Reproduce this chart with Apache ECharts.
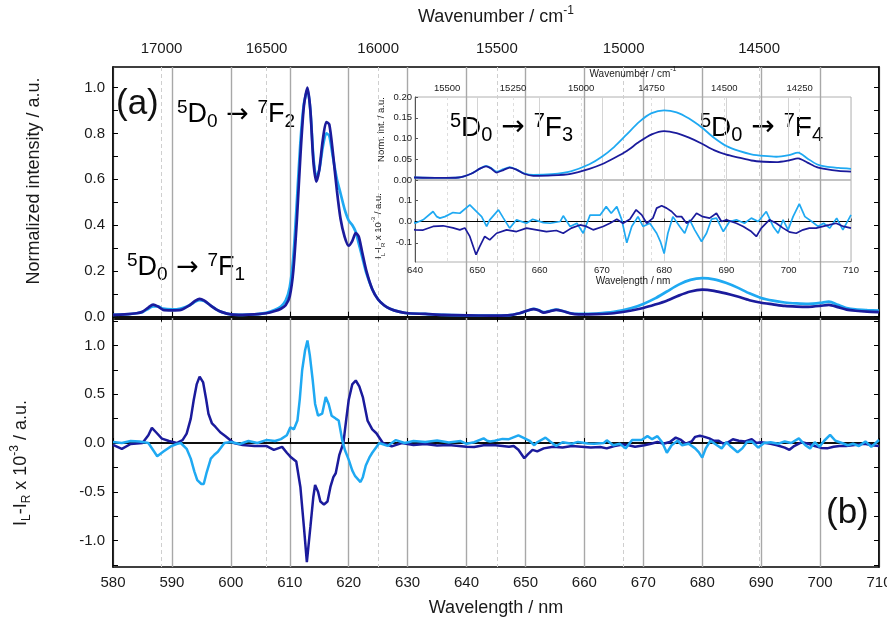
<!DOCTYPE html>
<html><head><meta charset="utf-8">
<script src="https://cdn.jsdelivr.net/npm/echarts@6/dist/echarts.min.js"></script>
<style>html,body{margin:0;padding:0;background:#fff}#c{width:887px;height:620px}</style>
</head><body><div id="c"></div>
<script>
// ---- data ----
const specX = [580,582,584,585,586,586.8,587.6,588.5,590,591.5,593,594,594.7,595.5,596.5,597.5,598.5,600,602,604,606,607.5,608.5,609.3,610,610.6,611.2,611.8,612.4,613,613.5,614,614.5,615,615.6,616.2,616.7,617.3,618,618.6,619.3,620,620.6,621.2,621.7,622.3,623,624,625,626,627,628.5,630,633,636,640,644,647,649,650.5,651.4,652.2,653.1,654.2,655.2,656.3,657.5,659,662,665,668,670,672,674,676,678,680,682,684,686,688,690,692,694,696,698,700,701.5,703,704.5,706,708,710];
const specDark = [0.008,0.01,0.015,0.022,0.04,0.053,0.045,0.03,0.028,0.03,0.05,0.07,0.078,0.07,0.05,0.032,0.02,0.01,0.008,0.01,0.015,0.025,0.035,0.05,0.09,0.2,0.42,0.7,0.92,1.0,0.9,0.68,0.59,0.64,0.77,0.85,0.84,0.72,0.55,0.43,0.35,0.31,0.33,0.365,0.35,0.28,0.2,0.12,0.075,0.05,0.035,0.022,0.015,0.012,0.008,0.006,0.005,0.006,0.015,0.028,0.033,0.028,0.018,0.024,0.03,0.025,0.015,0.01,0.011,0.015,0.027,0.038,0.053,0.07,0.092,0.11,0.118,0.113,0.102,0.088,0.072,0.061,0.054,0.047,0.044,0.043,0.047,0.052,0.042,0.031,0.026,0.022,0.02];
const specLight = [0.008,0.01,0.015,0.02,0.035,0.045,0.045,0.035,0.032,0.036,0.05,0.066,0.072,0.068,0.05,0.032,0.02,0.01,0.008,0.01,0.017,0.03,0.045,0.07,0.13,0.26,0.5,0.76,0.93,0.99,0.9,0.7,0.61,0.64,0.74,0.8,0.79,0.7,0.6,0.54,0.47,0.42,0.40,0.37,0.32,0.26,0.19,0.12,0.075,0.05,0.035,0.022,0.015,0.012,0.008,0.006,0.005,0.006,0.015,0.028,0.034,0.029,0.02,0.026,0.031,0.025,0.016,0.012,0.014,0.021,0.038,0.056,0.08,0.11,0.14,0.161,0.168,0.163,0.148,0.127,0.102,0.082,0.07,0.062,0.058,0.056,0.06,0.066,0.052,0.038,0.032,0.029,0.027];

const diffDarkX = [580,581.5,583,585,586,586.6,587.3,588.3,589.5,590.8,591.8,592.5,593.2,593.7,594.2,594.7,595.3,595.8,596.2,596.8,597.4,598.2,599.1,600.5,602,604,606,607.3,608.7,609.5,610.1,611.1,611.8,612.4,612.9,613.5,614.0,614.3,614.8,615.2,615.8,616.4,616.9,617.4,617.8,618.4,619.1,619.6,620.0,620.6,621.2,621.8,622.4,623.2,624.0,624.7,625.8,627.3,629,631,633,635,637,
  640,641.3,642.9,644.5,646.1,647.2,648.0,648.8,649.8,650.4,651.2,652.0,653.1,654.7,656.3,657.9,659.5,661.1,662.7,663.8,665.1,666.5,667.5,668.6,670.2,671.3,672.4,673.4,674.5,675.5,676.4,677.2,678.2,678.8,679.6,680.4,681.2,682.0,682.8,683.6,684.4,685.2,686.2,687.3,688.4,689.2,690.0,691.6,692.7,694.0,694.8,695.6,696.9,698.0,699.1,700.2,701.2,702.3,703.3,704.4,705.5,706.5,707.6,708.8,710];
const diffDarkY = [-0.02,-0.06,-0.01,0,0.08,0.155,0.11,0.045,0.02,0,0.03,0.096,0.25,0.44,0.6,0.68,0.62,0.45,0.3,0.2,0.164,0.11,0.07,0,-0.02,-0.03,-0.03,-0.07,-0.04,-0.1,-0.14,-0.19,-0.45,-0.86,-1.22,-0.86,-0.55,-0.43,-0.5,-0.6,-0.63,-0.6,-0.45,-0.35,-0.31,-0.125,0,0.25,0.44,0.6,0.64,0.58,0.47,0.23,0.14,0.1,0,-0.035,0,-0.02,-0.01,-0.025,-0.02,
  -0.039,-0.04,-0.023,-0.02,-0.03,-0.039,-0.03,-0.07,-0.156,-0.117,-0.07,-0.086,-0.055,-0.039,-0.047,-0.031,-0.039,-0.047,-0.042,-0.055,-0.031,-0.016,-0.023,-0.039,-0.023,-0.008,0.011,-0.008,0.011,0.055,0.031,-0.008,0.016,0.063,0.074,0.063,0.047,0.023,0.023,-0.008,0.008,0.039,0.023,0.016,0.039,0,0.008,-0.008,-0.023,-0.047,-0.07,-0.031,0.008,-0.008,-0.031,-0.05,-0.055,-0.039,-0.031,-0.031,-0.023,-0.016,-0.008,-0.023,-0.031];

const diffLightX = [580,581.5,583,584.5,586,587.0,587.5,588.5,589.8,590.8,591.5,592.5,593.2,593.8,594.3,595.0,595.4,595.9,596.6,597.2,597.8,598.9,600,601.5,603,604.5,606,607.5,608.5,609.5,610.1,610.7,611.3,611.7,612.1,612.6,613.0,613.4,613.9,614.3,614.8,615.5,616.1,616.6,617.1,617.8,618.3,618.9,619.4,620.0,620.6,621.1,622.0,622.4,622.9,623.5,624.0,625.2,626.6,628,629.5,631,633,635,637,639,
  640,641.3,642.9,643.5,644.0,644.8,646.1,647.2,648.8,649.6,650.7,651.5,652.0,653.4,654.2,655.2,656.3,657.9,658.9,660.6,661.7,663.3,663.8,664.9,666.0,667.0,668.1,669.7,670.7,671.5,672.4,673.2,674.0,674.8,675.8,676.6,677.7,678.8,679.4,680.0,680.6,681.4,682.5,683.3,684.1,684.9,686.0,686.8,687.6,688.4,689.5,690.5,691.6,692.9,694.0,695.1,696.4,697.5,698.3,699.1,699.9,700.7,701.7,702.6,703.7,704.7,705.6,706.6,707.7,708.7,710];
const diffLightY = [0.01,0.0,0.02,0.015,0.0,-0.09,-0.135,-0.09,-0.035,-0.01,0,-0.06,-0.16,-0.29,-0.38,-0.42,-0.42,-0.3,-0.16,-0.12,-0.09,0,0.01,-0.01,0.02,0.0,0.03,0.02,0.04,0.08,0.16,0.14,0.23,0.45,0.745,0.95,1.05,0.9,0.64,0.4,0.28,0.3,0.47,0.4,0.28,0.25,0.23,0.03,-0.08,-0.17,-0.28,-0.34,-0.4,-0.35,-0.23,-0.15,-0.1,0,-0.03,0.03,0.0,0.02,0.01,0.025,0.005,0.02,
  -0.008,0.008,0.047,0.023,0.016,0.023,0.042,0.039,0.078,0.055,0.023,-0.023,0.008,0.055,0.016,-0.031,0.008,-0.008,0.011,-0.005,-0.008,0,0.027,-0.023,-0.008,-0.055,0.03,0.03,0.07,0.039,0.07,0.008,-0.10,-0.023,0.023,-0.023,-0.008,-0.055,-0.094,-0.15,-0.055,0.023,-0.023,-0.055,0.008,-0.039,-0.094,-0.055,0.011,0.016,-0.047,0,0.008,-0.008,0.016,0,0.047,-0.023,-0.055,0.008,-0.039,0.023,0.083,0.023,0,-0.023,-0.008,-0.031,0.016,-0.039,0.031];

const wnMain = [17000,16500,16000,15500,15000,14500];
const wnInset = [15500,15250,15000,14750,14500,14250];
const yTopLabels = [0,0.2,0.4,0.6,0.8,1.0];
const yTopTicks = [0,0.1,0.2,0.3,0.4,0.5,0.6,0.7,0.8,0.9,1.0];
const yBotLabels = [-1,-0.5,0,0.5,1];
const yBotTicks = [-1.25,-1,-0.75,-0.5,-0.25,0,0.25,0.5,0.75,1,1.25];
const yInsetBotLabels = [-0.1,0,0.1];

// ---- helpers ----
const FONT = 'Arial, "Liberation Sans", Helvetica, sans-serif';
const TXT = '#1a1a1a';
const LIGHT = '#1fa9f2', DARK = '#1b1b9c';
const pairs = (xs, ys) => xs.map((x, i) => [x, ys[i]]);
const wn2wl = w => 1e7 / w;
const wnFmt = v => String(Math.round(1e7 / v));

const nameRich = (size) => ({
  i: {fontSize: size, lineHeight: size + 6, fontFamily: FONT, color: TXT},
  s: {fontSize: Math.round(size * 0.65), lineHeight: Math.round(size * 0.65), verticalAlign: 'bottom', fontFamily: FONT, color: TXT},
  p: {fontSize: Math.round(size * 0.65), lineHeight: Math.round(size * 0.65), verticalAlign: 'top', fontFamily: FONT, color: TXT}
});
const transRich = (size) => ({
  m: {fontSize: size, lineHeight: size + 6, fontFamily: FONT, color: '#111'},
  a: {fontSize: size, lineHeight: size + 6, fontFamily: '"DejaVu Sans", sans-serif', color: '#111'},
  p: {fontSize: Math.round(size * 0.72), lineHeight: Math.round(size * 0.72), verticalAlign: 'top', fontFamily: FONT, color: '#111'},
  b: {fontSize: Math.round(size * 0.72), lineHeight: Math.round(size * 0.72), verticalAlign: 'bottom', fontFamily: FONT, color: '#111'}
});
const trans = (u, l) => `{p|5}{m|D}{b|0}{a| \u2192 }{p|${u}}{m|F}{b|${l}}`;

const mainGridLine = {show: true, lineStyle: {color: '#a8a8a8', width: 1.4}};
const wnGridLine = {show: true, lineStyle: {color: '#cfcfcf', width: 1, type: [4, 3]}};
const insetGridLine = {show: true, lineStyle: {color: '#d4d4d4', width: 1}};
const insetWnGridLine = {show: true, lineStyle: {color: '#dedede', width: 1, type: [3, 3]}};
const blackLine = {show: true, lineStyle: {color: '#000', width: 1.5}};

const gridBase = {outerBoundsMode: 'none', containLabel: false, show: true, backgroundColor: 'transparent'};

const chart = echarts.init(document.getElementById('c'));
const option = {
  animation: false,
  backgroundColor: '#fff',
  grid: [
    Object.assign({left: 113, right: 8, top: 67, height: 252, borderColor: '#000', borderWidth: 1.5}, gridBase),
    Object.assign({left: 113, right: 8, top: 319, height: 248, borderColor: '#000', borderWidth: 1.5}, gridBase),
    Object.assign({left: 415, width: 436, top: 97, height: 83, borderColor: '#b0b0b0', borderWidth: 1}, gridBase),
    Object.assign({left: 415, width: 436, top: 180, height: 82, borderColor: '#b0b0b0', borderWidth: 1}, gridBase)
  ],
  xAxis: [
    {gridIndex: 0, type: 'value', min: 580, max: 710, interval: 10, position: 'bottom',
      axisLine: blackLine, axisTick: {inside: true, length: 5, lineStyle: {color: '#000'}}, axisLabel: {show: false}, splitLine: mainGridLine},
    {gridIndex: 0, type: 'value', min: 580, max: 710, position: 'top',
      name: '{i|Wavenumber / cm}{p|-1}', nameLocation: 'middle', nameGap: 38,
      nameTextStyle: {fontSize: 18, fontFamily: FONT, color: TXT, rich: nameRich(18)},
      axisLine: blackLine, axisTick: {inside: true, length: 5, customValues: wnMain.map(wn2wl), lineStyle: {color: '#000'}},
      axisLabel: {customValues: wnMain.map(wn2wl), formatter: wnFmt, fontSize: 15, fontFamily: FONT, color: TXT, margin: 11},
      splitLine: wnGridLine},
    {gridIndex: 1, type: 'value', min: 580, max: 710, interval: 10, position: 'bottom',
      name: 'Wavelength / nm', nameLocation: 'middle', nameGap: 32,
      nameTextStyle: {fontSize: 18, fontFamily: FONT, color: TXT},
      axisLine: blackLine, axisTick: {inside: true, length: 5, lineStyle: {color: '#000'}},
      axisLabel: {fontSize: 15, fontFamily: FONT, color: TXT, margin: 8}, splitLine: mainGridLine},
    {gridIndex: 1, type: 'value', min: 580, max: 710, position: 'top',
      axisLine: {show: false}, axisTick: {show: false, customValues: wnMain.map(wn2wl)},
      axisLabel: {show: false, customValues: wnMain.map(wn2wl)}, splitLine: wnGridLine},
    {gridIndex: 2, type: 'value', min: 640, max: 710, position: 'top',
      name: '{i|Wavenumber / cm}{p|-1}', nameLocation: 'middle', nameGap: 15,
      nameTextStyle: {fontSize: 10, fontFamily: FONT, color: TXT, rich: nameRich(10)},
      axisLine: {show: false}, axisTick: {show: false, customValues: wnInset.map(wn2wl)},
      axisLabel: {customValues: wnInset.map(wn2wl), formatter: wnFmt, fontSize: 9.5, fontFamily: FONT, color: TXT, margin: 4},
      splitLine: insetWnGridLine},
    {gridIndex: 2, type: 'value', min: 640, max: 710, interval: 10, position: 'bottom',
      axisLine: {show: false}, axisTick: {show: false}, axisLabel: {show: false}, splitLine: insetGridLine},
    {gridIndex: 3, type: 'value', min: 640, max: 710, interval: 10, position: 'bottom',
      name: 'Wavelength / nm', nameLocation: 'middle', nameGap: 14,
      nameTextStyle: {fontSize: 10, fontFamily: FONT, color: TXT},
      axisLine: {show: true, lineStyle: {color: '#555', width: 1}}, axisTick: {inside: true, length: 3, lineStyle: {color: '#555'}},
      axisLabel: {fontSize: 9.5, fontFamily: FONT, color: TXT, margin: 3}, splitLine: insetGridLine},
    {gridIndex: 3, type: 'value', min: 640, max: 710, position: 'top',
      axisLine: {show: false}, axisTick: {show: false, customValues: wnInset.map(wn2wl)},
      axisLabel: {show: false, customValues: wnInset.map(wn2wl)}, splitLine: insetWnGridLine}
  ],
  yAxis: [
    {gridIndex: 0, type: 'value', min: -0.01, max: 1.09, position: 'left',
      name: 'Normalized intensity / a.u.', nameLocation: 'middle', nameGap: 70,
      nameTextStyle: {fontSize: 18, fontFamily: FONT, color: TXT, padding: [0, 0, 0, 24]},
      axisLine: blackLine, axisTick: {inside: true, length: 5, customValues: yTopTicks, lineStyle: {color: '#000'}},
      axisLabel: {customValues: yTopLabels, formatter: v => v.toFixed(1), fontSize: 15, fontFamily: FONT, color: TXT, margin: 8},
      splitLine: {show: false}},
    {gridIndex: 0, type: 'value', min: -0.01, max: 1.09, position: 'right',
      axisLine: blackLine, axisTick: {inside: true, length: 5, customValues: yTopTicks, lineStyle: {color: '#000'}},
      axisLabel: {show: false}, splitLine: {show: false}},
    {gridIndex: 1, type: 'value', min: -1.27, max: 1.27, position: 'left',
      name: '{i|I}{s|L}{i|-I}{s|R}{i| x 10}{p|-3}{i| / a.u.}', nameLocation: 'middle', nameGap: 80,
      nameTextStyle: {fontSize: 18, fontFamily: FONT, color: TXT, rich: nameRich(18), padding: [0, 40, 0, 0]},
      axisLine: blackLine, axisTick: {inside: true, length: 5, customValues: yBotTicks, lineStyle: {color: '#000'}},
      axisLabel: {customValues: yBotLabels, formatter: v => v.toFixed(1), fontSize: 15, fontFamily: FONT, color: TXT, margin: 8},
      splitLine: {show: false}},
    {gridIndex: 1, type: 'value', min: -1.27, max: 1.27, position: 'right',
      axisLine: blackLine, axisTick: {inside: true, length: 5, customValues: yBotTicks, lineStyle: {color: '#000'}},
      axisLabel: {show: false}, splitLine: {show: false}},
    {gridIndex: 2, type: 'value', min: 0, max: 0.2, interval: 0.05, position: 'left',
      name: 'Norm. int. / a.u.', nameLocation: 'middle', nameGap: 29,
      nameTextStyle: {fontSize: 9.5, fontFamily: FONT, color: TXT, padding: [0, 0, 0, 18]},
      axisLine: {show: true, lineStyle: {color: '#555', width: 1}}, axisTick: {inside: true, length: 3, lineStyle: {color: '#555'}},
      axisLabel: {formatter: v => v.toFixed(2), fontSize: 9.5, fontFamily: FONT, color: TXT, margin: 3},
      splitLine: {show: false}},
    {gridIndex: 3, type: 'value', min: -0.19, max: 0.195, position: 'left',
      name: '{i|I}{s|L}{i|-I}{s|R}{i| x 10}{p|-3}{i| / a.u.}', nameLocation: 'middle', nameGap: 29,
      nameTextStyle: {fontSize: 9.5, fontFamily: FONT, color: TXT, rich: nameRich(9.5), padding: [0, 10, 0, 0]},
      axisLine: {show: true, lineStyle: {color: '#555', width: 1}}, axisTick: {inside: true, length: 3, customValues: yInsetBotLabels, lineStyle: {color: '#555'}},
      axisLabel: {customValues: yInsetBotLabels, formatter: v => v.toFixed(1), fontSize: 9.5, fontFamily: FONT, color: TXT, margin: 3},
      splitLine: {show: false}}
  ],
  series: [
    {type: 'line', xAxisIndex: 0, yAxisIndex: 0, data: pairs(specX, specLight), showSymbol: false, smooth: 0.25, lineStyle: {color: LIGHT, width: 2.7}, z: 3},
    {type: 'line', xAxisIndex: 0, yAxisIndex: 0, data: pairs(specX, specDark), showSymbol: false, smooth: 0.25, lineStyle: {color: DARK, width: 2.7}, z: 4},
    {type: 'line', xAxisIndex: 2, yAxisIndex: 2, data: pairs(diffDarkX, diffDarkY), showSymbol: false, lineStyle: {color: DARK, width: 2.5}, z: 3,
      markLine: {silent: true, symbol: ['none', 'none'], label: {show: false}, lineStyle: {color: '#000', width: 1.5, type: 'solid'}, data: [{yAxis: 0}], z: 2}},
    {type: 'line', xAxisIndex: 2, yAxisIndex: 2, data: pairs(diffLightX, diffLightY), showSymbol: false, lineStyle: {color: LIGHT, width: 2.5}, z: 4},
    {type: 'line', xAxisIndex: 5, yAxisIndex: 4, data: pairs(specX, specLight), showSymbol: false, smooth: 0.25, lineStyle: {color: LIGHT, width: 1.8}, z: 5},
    {type: 'line', xAxisIndex: 5, yAxisIndex: 4, data: pairs(specX, specDark), showSymbol: false, smooth: 0.25, lineStyle: {color: DARK, width: 1.8}, z: 6},
    {type: 'line', xAxisIndex: 6, yAxisIndex: 5, data: pairs(diffLightX, diffLightY), showSymbol: false, lineStyle: {color: LIGHT, width: 1.7}, z: 5,
      markLine: {silent: true, symbol: ['none', 'none'], label: {show: false}, lineStyle: {color: '#000', width: 1.2, type: 'solid'}, data: [{yAxis: 0}]}},
    {type: 'line', xAxisIndex: 6, yAxisIndex: 5, data: pairs(diffDarkX, diffDarkY), showSymbol: false, lineStyle: {color: DARK, width: 1.7}, z: 6}
  ],
  graphic: [
    {type: 'text', left: 116, top: 87, style: {text: '(a)', font: '35px ' + FONT, fill: '#111'}},
    {type: 'text', left: 826, top: 496, style: {text: '(b)', font: '35px ' + FONT, fill: '#111'}},
    {type: 'text', left: 177, top: 98, style: {text: trans(7, 2), rich: transRich(27)}},
    {type: 'text', left: 127, top: 251, style: {text: trans(7, 1), rich: transRich(27)}},
    {type: 'text', left: 450, top: 111, style: {text: trans(7, 3), rich: transRich(28)}},
    {type: 'text', left: 700, top: 111, style: {text: trans(7, 4), rich: transRich(28)}}
  ]
};
chart.setOption(option);
</script>
</body></html>
